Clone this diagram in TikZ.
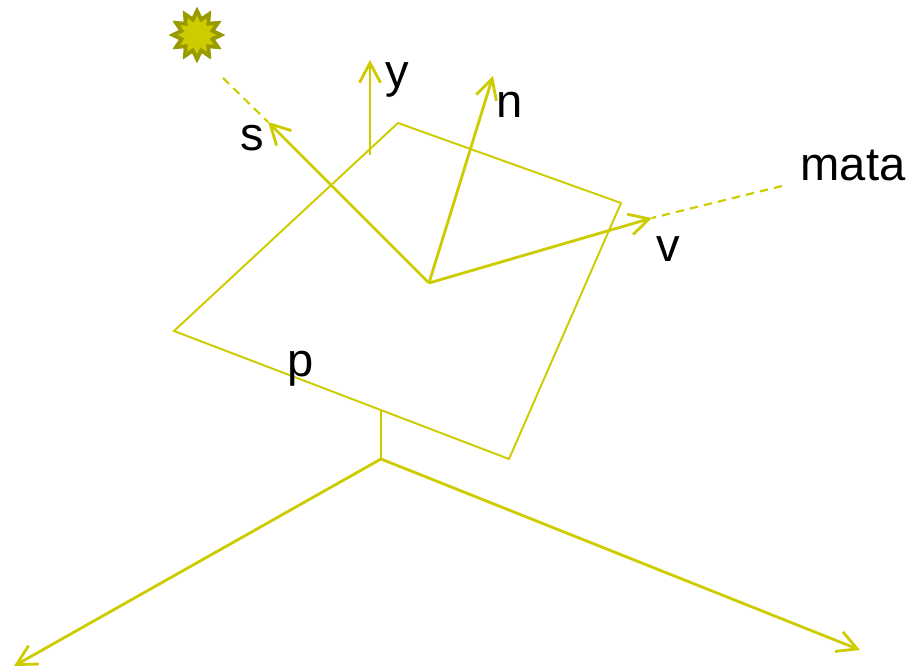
\documentclass[tikz,border=0pt]{standalone}
\usepackage{fontspec}
\setmainfont{Liberation Sans}
\usetikzlibrary{arrows.meta,shapes.geometric}
\definecolor{lineyellow}{HTML}{CCCC00}
\definecolor{sundark}{HTML}{999900}
\tikzset{
  vecline/.style={draw=lineyellow,line width=0.8pt,-{Straight Barb[length=5.6pt,width=6pt,line width=0.8pt]}},
  thinline/.style={draw=lineyellow,line width=0.55pt},
  dashline/.style={draw=lineyellow,line width=0.6pt,dash pattern=on 2.4pt off 1.7pt},
  lbl/.style={anchor=base,inner sep=0pt,text=black,font=\fontsize{13.4pt}{16pt}\selectfont},
  sunstar/.style={star,star points=12,star point ratio=1.5,draw=sundark,fill=lineyellow,line width=1.1pt,inner sep=0pt,minimum size=0.48cm,miter limit=6}
}
\begin{document}
\begin{tikzpicture}[x=0.01cm,y=-0.01cm]
  \useasboundingbox (0,0) rectangle (908,667);
  % plane corners
  \coordinate (pa) at (398,123);
  \coordinate (pb) at (621,203);
  \coordinate (pc) at (509,459);
  \coordinate (pd) at (174,331);
  \draw[thinline,line join=miter] (pa) -- (pb) -- (pc) -- (pd) -- cycle;
  % vectors at the surface point
  \coordinate (o) at (429,283);
  \coordinate (stip) at (268,122);
  \coordinate (ntip) at (493,76);
  \coordinate (vtip) at (652,218);
  \draw[vecline] (o) -- (stip);
  \draw[vecline] (o) -- (ntip);
  \draw[vecline] (o) -- (vtip);
  \coordinate (ybase) at (370,155);
  \coordinate (ytip) at (370,60);
  \draw[vecline] (ybase) -- (ytip);
  % light and eye
  \node[sunstar] (sun) at (197,35) {};
  \coordinate (send) at (223,78);
  \coordinate (mend) at (782,186);
  \draw[dashline] (send) -- (stip);
  \draw[dashline] (mend) -- (vtip);
  % axes under the plane
  \coordinate (org) at (381,459);
  \coordinate (foot) at (381,410);
  \coordinate (axl) at (14,666);
  \coordinate (axr) at (860,650);
  \draw[thinline] (foot) -- (org);
  \draw[vecline] (org) -- (axl);
  \draw[vecline] (org) -- (axr);
  % labels
  \node[lbl] (ls) at (252,151) {s};
  \node[lbl] (ly) at (397,88) {y};
  \node[lbl] (ln) at (510,118) {n};
  \node[lbl] (lm) at (853,181) {mata};
  \node[lbl] (lv) at (668,262) {v};
  \node[lbl] (lp) at (301,377) {p};
\end{tikzpicture}
\end{document}
